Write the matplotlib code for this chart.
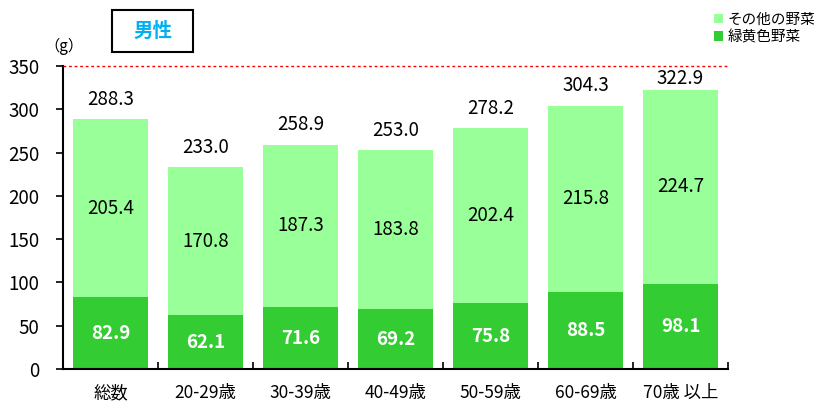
import matplotlib
matplotlib.use("Agg")
import matplotlib.pyplot as plt
from matplotlib.patches import Patch, Rectangle
import numpy as np

plt.rcParams['font.family'] = ['Noto Sans CJK JP', 'DejaVu Sans']

categories = ['総数', '20-29歳', '30-39歳', '40-49歳', '50-59歳', '60-69歳', '70歳 以上']
green_yellow = [82.9, 62.1, 71.6, 69.2, 75.8, 88.5, 98.1]
other_veg = [205.4, 170.8, 187.3, 183.8, 202.4, 215.8, 224.7]
totals = [288.3, 233.0, 258.9, 253.0, 278.2, 304.3, 322.9]
yticks = [0, 50, 100, 150, 200, 250, 300, 350]

c_dark = '#33CC33'
c_light = '#99FF99'

fig = plt.figure(figsize=(8.15, 4.04), dpi=100)
ax = fig.add_axes([63/815, 1-369/404, (728-63)/815, (369-66)/404])

x = np.arange(len(categories))
ax.bar(x, green_yellow, width=0.78, color=c_dark, zorder=2)
ax.bar(x, other_veg, width=0.78, bottom=green_yellow, color=c_light, zorder=2)

for i in range(len(categories)):
    ax.text(x[i], green_yellow[i]/2, f'{green_yellow[i]:.1f}', ha='center', va='center',
            color='white', fontsize=13.5, fontweight='bold')
    ax.text(x[i], green_yellow[i] + other_veg[i]/2, f'{other_veg[i]:.1f}', ha='center', va='center',
            color='black', fontsize=13.5)
    ax.text(x[i], min(totals[i] + 23, 336), f'{totals[i]:.1f}', ha='center', va='center',
            color='black', fontsize=13.5)

ax.set_xlim(-0.5, len(categories)-0.5)
ax.set_ylim(0, 350)
ax.set_yticks(yticks)
ax.set_yticklabels([str(v) for v in yticks], fontsize=13.5)
ax.set_xticks(x)
ax.set_xticklabels(categories, fontsize=12.5)
ax.tick_params(axis='x', length=0, pad=11)
ax.set_xticks(np.arange(len(categories)+1) - 0.5, minor=True)
ax.tick_params(axis='x', which='minor', direction='in', length=5, width=1.2)
ax.tick_params(axis='y', direction='out', length=5, width=1.2, pad=12)
ax.spines['top'].set_visible(False)
ax.spines['right'].set_visible(False)
ax.spines['left'].set_linewidth(1.5)
ax.spines['bottom'].set_linewidth(1.5)

ax.plot([-0.5, len(categories)-0.5], [350, 350], color='red', linestyle=(0, (2, 2)),
        linewidth=1, zorder=3, clip_on=False)

fig.text(64/815, 1-46/404, '（g）', fontsize=11, ha='center', va='center')

fig.add_artist(Rectangle((112/815, 1-52/404), 81/815, 42/404, transform=fig.transFigure,
                         facecolor='white', edgecolor='black', linewidth=1.5))
fig.text(152.5/815, 1-31/404, '男性', fontsize=14, fontweight='bold', color='#00B0F0',
         ha='center', va='center')

handles = [Patch(facecolor=c_light, edgecolor='none', label='その他の野菜'),
           Patch(facecolor=c_dark, edgecolor='none', label='緑黄色野菜')]
leg = fig.legend(handles=handles, loc='upper left', bbox_to_anchor=(714/815, 1-13/404),
                 frameon=False, fontsize=10.5, handlelength=0.6, handleheight=0.6,
                 handletextpad=0.3, labelspacing=0.2, borderaxespad=0, borderpad=0)

fig.savefig('out.png', dpi=100)
